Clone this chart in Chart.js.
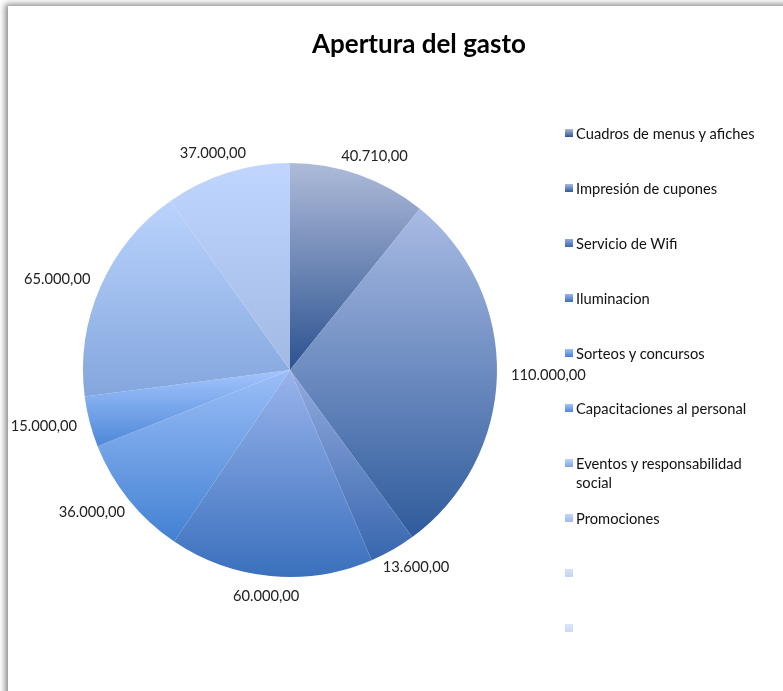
<!DOCTYPE html>
<html lang="es">
<head>
    <meta charset="UTF-8">
    <title>Apertura del gasto</title>
    <style>
        body {
            margin: 0;
            padding: 0;
            background-color: #fff;
            font-family: Lato, "Open Sans", sans-serif;
            overflow: hidden;
        }
        .frame {
            position: absolute;
            left: 8px;
            top: 6px;
            width: 820px;
            height: 720px;
            background: #fff;
            box-shadow: -3px -2px 6px rgba(0, 0, 0, 0.45);
        }
        #chart {
            position: absolute;
            left: 0;
            top: 0;
        }
        h1 {
            position: absolute;
            left: 269px;
            width: 300px;
            top: 27px;
            margin: 0;
            font-size: 26px;
            font-weight: bold;
            text-align: center;
            color: #000;
        }
        .legend-item {
            position: absolute;
            left: 565px;
            width: 210px;
            font-size: 14.7px;
            line-height: 19px;
            color: #111;
        }
        .legend-item .box {
            position: absolute;
            left: 0;
            top: 5px;
            width: 8px;
            height: 8px;
        }
        .legend-item .txt {
            display: block;
            margin-left: 11px;
            width: 190px;
        }
    </style>
</head>
<body>
    <div class="frame"></div>
    <canvas id="chart" width="783" height="691"></canvas>
    <h1>Apertura del gasto</h1>
    <div id="legend"></div>

    <script src="https://cdn.jsdelivr.net/npm/chart.js"></script>
    <script>
        // datos
        const categorias = [
            'Cuadros de menus y afiches',
            'Impresión de cupones',
            'Servicio de Wifi',
            'Iluminacion',
            'Sorteos y concursos',
            'Capacitaciones al personal',
            'Eventos y responsabilidad social',
            'Promociones',
            '',
            ''
        ];
        const gastos = [40710, 110000, 13600, 60000, 36000, 15000, 65000, 37000, null, null];

        // colores (arriba claro, abajo oscuro)
        const colorArriba = ['#aebbd9', '#a9bbe4', '#93abde', '#9ab4ec', '#9bbef8', '#a3c4fd', '#bad3fd', '#c0d6ff', '#d6e3fa', '#dce7fb'];
        const colorAbajo = ['#2c5290', '#2f5b9b', '#3866ae', '#3a70bd', '#4281d2', '#4d88d8', '#83a6dd', '#a2b9e4', '#c3d3f0', '#cbd9f2'];

        function formato(v) {
            return v.toFixed(2).replace('.', ',').replace(/\B(?=(\d{3})+(?!\d))/g, '.');
        }

        // degradado vertical por porcion
        const degradados = {
            id: 'degradados',
            beforeDatasetsDraw(chart) {
                const ctx = chart.ctx;
                chart.getDatasetMeta(0).data.forEach((arc, i) => {
                    const { x, y, startAngle, endAngle, outerRadius } = arc;
                    let top = y, bottom = y;
                    const angulos = [startAngle, endAngle];
                    for (let a = -Math.PI / 2; a <= endAngle; a += Math.PI) {
                        if (a >= startAngle) angulos.push(a);
                    }
                    angulos.forEach(a => {
                        const py = y + Math.sin(a) * outerRadius;
                        top = Math.min(top, py);
                        bottom = Math.max(bottom, py);
                    });
                    if (bottom - top < 1) return;
                    const g = ctx.createLinearGradient(0, top, 0, bottom);
                    g.addColorStop(0, colorArriba[i]);
                    g.addColorStop(1, colorAbajo[i]);
                    arc.options.backgroundColor = g;
                });
            }
        };

        // etiquetas fuera del circulo
        const etiquetas = {
            id: 'etiquetas',
            afterDatasetsDraw(chart) {
                const ctx = chart.ctx;
                ctx.save();
                ctx.font = '14.7px Lato';
                ctx.fillStyle = '#222';
                ctx.textAlign = 'center';
                ctx.textBaseline = 'middle';
                chart.getDatasetMeta(0).data.forEach((arc, i) => {
                    const v = gastos[i];
                    if (v === null) return;
                    const mid = (arc.startAngle + arc.endAngle) / 2;
                    const dx = Math.cos(mid), dy = Math.sin(mid);
                    const txt = formato(v);
                    const w = ctx.measureText(txt).width;
                    const r = arc.outerRadius + 10;
                    const x = arc.x + dx * r + dx * (w / 2 + 4);
                    const y = arc.y + dy * r + dy * 10;
                    ctx.fillText(txt, x, y);
                });
                ctx.restore();
            }
        };

        const ctx = document.getElementById('chart').getContext('2d');
        const chart = new Chart(ctx, {
            type: 'pie',
            data: {
                labels: categorias,
                datasets: [{
                    data: gastos,
                    backgroundColor: c => colorAbajo[c.dataIndex],
                    borderWidth: 0
                }]
            },
            options: {
                responsive: false,
                animation: false,
                layout: {
                    padding: { left: 83, top: 163, right: 286, bottom: 114 }
                },
                plugins: {
                    legend: { display: false },
                    tooltip: { enabled: false }
                }
            },
            plugins: [degradados, etiquetas]
        });

        // leyenda en html
        const legend = document.getElementById('legend');
        categorias.forEach((nombre, i) => {
            const item = document.createElement('div');
            item.className = 'legend-item';
            item.style.top = (124 + i * 55) + 'px';
            const box = document.createElement('span');
            box.className = 'box';
            box.style.background = `linear-gradient(${colorArriba[i]}, ${colorAbajo[i]})`;
            const txt = document.createElement('span');
            txt.className = 'txt';
            txt.textContent = nombre || '\u00a0';
            item.appendChild(box);
            item.appendChild(txt);
            legend.appendChild(item);
        });
    </script>
</body>
</html>
